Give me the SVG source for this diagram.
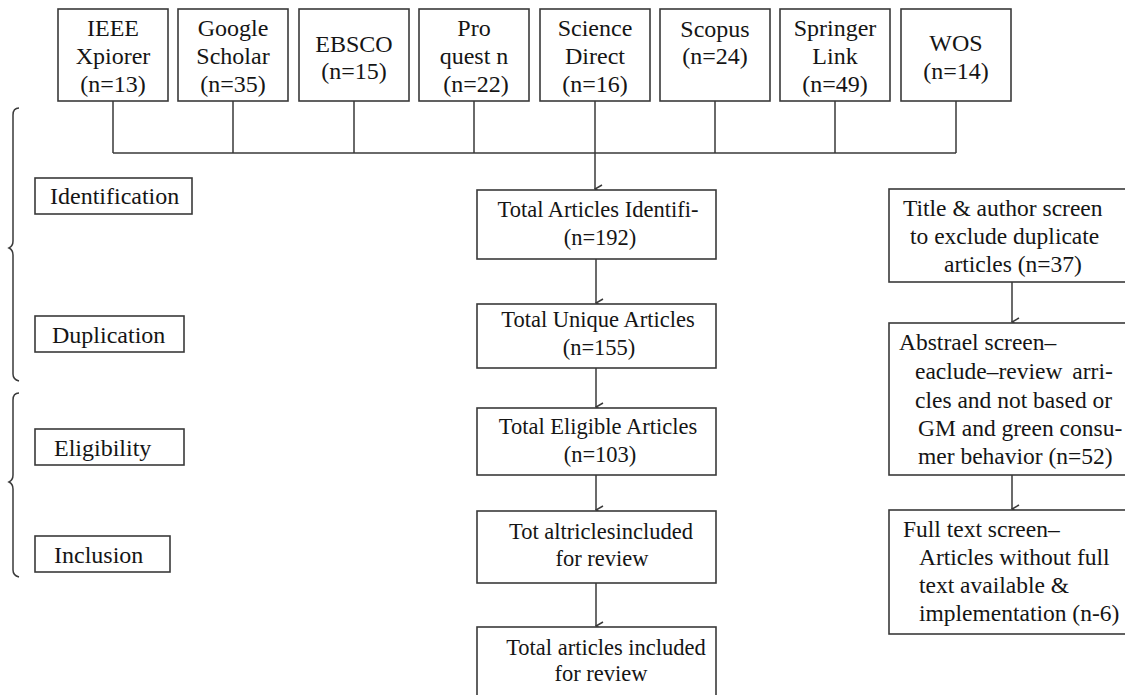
<svg xmlns="http://www.w3.org/2000/svg" width="1125" height="695" viewBox="0 0 1125 695">
<defs>
<style>
.box{fill:#fff;stroke:#3a3a3a;stroke-width:1.6}
.ln{fill:none;stroke:#3a3a3a;stroke-width:1.5}
.t24{font-size:24px}
.t23{font-size:23.5px}
.t22{font-size:22.5px}
.c{text-anchor:middle}
</style>
<marker id="ah" viewBox="0 0 10 10" refX="5" refY="9" markerWidth="10" markerHeight="10" markerUnits="userSpaceOnUse" orient="auto-start-reverse">
<path d="M1,2 L5,9 L9,2" fill="none" stroke="#3a3a3a" stroke-width="1.5"/>
</marker>
</defs>
<rect width="1125" height="695" fill="#fff"/>

<g id="connectors">
<path class="ln" d="M113,101 V153 M233,101 V153 M354,101 V153 M474,101 V153 M715,101 V153 M835,101 V153 M956,101 V153 M113,153 H956"/>
<path class="ln" d="M595,101 V189" marker-end="url(#ah)"/>
<path class="ln" d="M596,259 V303" marker-end="url(#ah)"/>
<path class="ln" d="M596,368 V407" marker-end="url(#ah)"/>
<path class="ln" d="M596,475 V510" marker-end="url(#ah)"/>
<path class="ln" d="M596,583 V626" marker-end="url(#ah)"/>
<path class="ln" d="M1012,282 V322" marker-end="url(#ah)"/>
<path class="ln" d="M1012,475 V509" marker-end="url(#ah)"/>
</g>

<g id="braces">
<path class="ln" d="M19,108 C15,108 13,110 13,115 L13,241 C13,245 11,247 9,248 C11,249 13,251 13,255 L13,374 C13,378 15,380 19,381"/>
<path class="ln" d="M19,393 C15,393 13,395 13,400 L13,475 C13,479 11,481 9,482 C11,483 13,485 13,489 L13,570 C13,574 15,576 19,577"/>
</g>

<g font-family="Liberation Serif, DejaVu Serif, serif" fill="#151515">
<g id="src-ieee"><rect class="box" x="58" y="9" width="110" height="92"/>
<text class="t24 c" x="113" y="36">IEEE</text><text class="t24 c" x="113" y="64">Xpiorer</text><text class="t24 c" x="113" y="92">(n=13)</text></g>
<g id="src-google"><rect class="box" x="178" y="9" width="110" height="92"/>
<text class="t24 c" x="233" y="36">Google</text><text class="t24 c" x="233" y="64">Scholar</text><text class="t24 c" x="233" y="92">(n=35)</text></g>
<g id="src-ebsco"><rect class="box" x="299" y="9" width="110" height="92"/>
<text class="t24 c" x="354" y="52">EBSCO</text><text class="t24 c" x="354" y="79">(n=15)</text></g>
<g id="src-proquest"><rect class="box" x="419" y="9" width="110" height="92"/>
<text class="t24 c" x="474" y="36">Pro</text><text class="t24 c" x="474" y="64">quest n</text><text class="t24 c" x="476" y="92">(n=22)</text></g>
<g id="src-science"><rect class="box" x="540" y="9" width="110" height="92"/>
<text class="t24 c" x="595" y="36">Science</text><text class="t24 c" x="595" y="64">Direct</text><text class="t24 c" x="595" y="92">(n=16)</text></g>
<g id="src-scopus"><rect class="box" x="660" y="9" width="110" height="92"/>
<text class="t24 c" x="715" y="37">Scopus</text><text class="t24 c" x="715" y="64">(n=24)</text></g>
<g id="src-springer"><rect class="box" x="780" y="9" width="110" height="92"/>
<text class="t24 c" x="835" y="36">Springer</text><text class="t24 c" x="835" y="64">Link</text><text class="t24 c" x="835" y="92">(n=49)</text></g>
<g id="src-wos"><rect class="box" x="901" y="9" width="110" height="92"/>
<text class="t24 c" x="956" y="51">WOS</text><text class="t24 c" x="956" y="79">(n=14)</text></g>

<g id="stage-identification"><rect class="box" x="35" y="178" width="157" height="36"/><text class="t24" x="50" y="204">Identification</text></g>
<g id="stage-duplication"><rect class="box" x="35" y="316" width="149" height="36"/><text class="t24" x="52" y="343">Duplication</text></g>
<g id="stage-eligibility"><rect class="box" x="35" y="429" width="149" height="36"/><text class="t24" x="54" y="456">Eligibility</text></g>
<g id="stage-inclusion"><rect class="box" x="35" y="536" width="135" height="36"/><text class="t24" x="54" y="563">Inclusion</text></g>

<g id="total-identified"><rect class="box" x="477" y="190" width="239" height="69"/>
<text class="t22 c" x="598" y="217">Total Articles Identifi-</text><text class="t22 c" x="600" y="245">(n=192)</text></g>
<g id="total-unique"><rect class="box" x="477" y="304" width="239" height="64"/>
<text class="t22 c" x="598" y="327">Total Unique Articles</text><text class="t22 c" x="599" y="355">(n=155)</text></g>
<g id="total-eligible"><rect class="box" x="477" y="408" width="239" height="67"/>
<text class="t22 c" x="598" y="434">Total Eligible Articles</text><text class="t22 c" x="600" y="462">(n=103)</text></g>
<g id="tot-included"><rect class="box" x="477" y="511" width="239" height="72"/>
<text class="t22 c" x="601" y="539">Tot altriclesincluded</text><text class="t22 c" x="602" y="566">for review</text></g>
<g id="total-included"><rect class="box" x="477" y="627" width="239" height="80"/>
<text class="t22 c" x="606" y="655">Total articles included</text><text class="t22 c" x="601" y="681">for review</text></g>

<g id="excl-title"><rect class="box" x="889" y="189" width="250" height="93"/>
<text class="t23" x="903" y="216">Title &amp; author screen</text><text class="t23" x="910" y="244">to exclude duplicate</text><text class="t23" x="944" y="272">articles (n=37)</text></g>
<g id="excl-abstract"><rect class="box" x="889" y="323" width="250" height="152"/>
<text class="t23" x="899" y="350">Abstrael screen–</text>
<text class="t23" x="915" y="379" word-spacing="4">eaclude–review arri-</text>
<text class="t23" x="915" y="408">cles and not based or</text>
<text class="t23" x="918" y="436">GM and green consu-</text>
<text class="t23" x="918" y="464">mer behavior (n=52)</text></g>
<g id="excl-fulltext"><rect class="box" x="889" y="510" width="250" height="124"/>
<text class="t23" x="903" y="537">Full text screen–</text>
<text class="t23" x="919" y="565">Articles without full</text>
<text class="t23" x="919" y="593">text available &amp;</text>
<text class="t23" x="919" y="621">implementation (n-6)</text></g>
</g>
</svg>
